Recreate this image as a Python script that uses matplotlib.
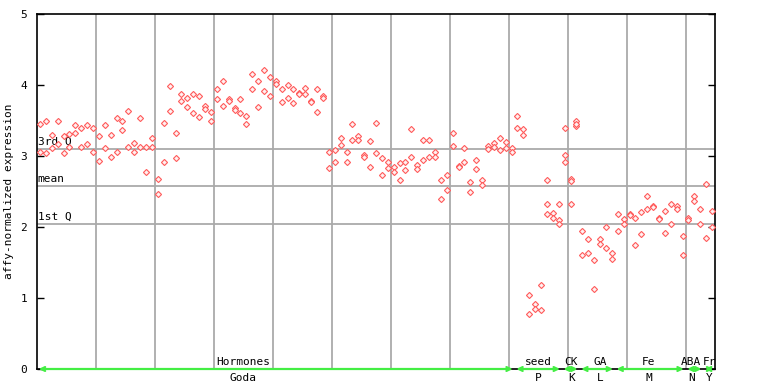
import matplotlib
matplotlib.use("Agg")
import matplotlib.pyplot as plt
import matplotlib.transforms as mtransforms
import numpy as np

# ---- data ----
upper = [3.45, 3.49, 3.30, 3.49, 3.28, 3.31, 3.43, 3.39, 3.43, 3.39,
         3.28, 3.43, 3.30, 3.53, 3.50, 3.64, 3.18, 3.54, 3.13, 3.25,
         2.68, 3.46, 3.99, 3.32, 3.88, 3.81, 3.88, 3.85, 3.70, 3.62,
         3.94, 4.06, 3.80, 3.67, 3.80, 3.56, 4.16, 4.06, 4.21, 4.11,
         4.06, 3.95, 4.00, 3.95, 3.89, 3.96, 3.78, 3.95, 3.85, 3.05,
         3.09, 3.25, 3.05, 3.45, 3.28, 3.02, 3.21, 3.47, 2.97, 2.92,
         2.84, 2.90, 2.91, 3.38, 2.88, 3.23, 3.22, 3.05, 2.66, 2.73,
         3.33, 2.86, 3.11, 2.64, 2.94, 2.66, 3.14, 3.18, 3.26, 3.20,
         3.11, 3.56, 3.38, 1.04, 0.91, 1.18, 2.66, 2.20, 2.32, 3.40,
         2.67, 3.49, 1.94, 1.83, 1.53, 1.83, 2.00, 1.64, 2.19, 2.11,
         2.19, 2.12, 2.21, 2.43, 2.30, 2.13, 2.22, 2.32, 2.30, 1.88,
         2.12, 2.43, 2.26, 2.60, 2.22]
lower = [3.06, 3.04, 3.11, 3.17, 3.04, 3.13, 3.32, 3.12, 3.17, 3.06,
         2.93, 3.11, 2.99, 3.06, 3.37, 3.13, 3.06, 3.13, 2.77, 3.12,
         2.47, 2.91, 3.64, 2.97, 3.77, 3.69, 3.60, 3.55, 3.66, 3.50,
         3.80, 3.71, 3.78, 3.65, 3.60, 3.45, 3.94, 3.69, 3.92, 3.84,
         4.01, 3.76, 3.81, 3.74, 3.87, 3.87, 3.76, 3.62, 3.82, 2.83,
         2.91, 3.16, 2.92, 3.23, 3.22, 2.99, 2.84, 3.04, 2.73, 2.83,
         2.78, 2.66, 2.80, 2.98, 2.81, 2.95, 2.98, 2.98, 2.39, 2.52,
         3.14, 2.84, 2.91, 2.50, 2.81, 2.59, 3.10, 3.12, 3.08, 3.11,
         3.06, 3.39, 3.29, 0.78, 0.85, 0.83, 2.32, 2.13, 2.10, 3.01,
         2.32, 3.42, 1.61, 1.64, 1.12, 1.76, 1.71, 1.55, 1.95, 2.04,
         2.17, 1.74, 1.90, 2.26, 2.28, 2.11, 1.91, 2.04, 2.25, 1.61,
         2.10, 2.36, 2.04, 1.85, 2.00]
extra_idx = [86, 88, 89, 90, 91]
extra_val = [2.18, 2.04, 2.92, 2.65, 3.45]

q3_value = 3.10
mean_value = 2.58
q1_value = 2.04

groups_top = ["Hormones", "seed", "CK", "GA", "Fe", "ABA", "Fr"]
groups_bottom = ["Goda", "P", "K", "L", "M", "N", "Y"]
group_start = [0, 81, 89, 92, 98, 110, 113]
group_end = [81, 89, 92, 98, 110, 113, 115]
label_pos = [35.0, 85.0, 90.6, 95.5, 103.7, 111.0, 114.0]

n = len(upper)
xs = np.arange(n) + 0.5

# ---- figure ----
mono = "DejaVu Sans Mono"
fig = plt.figure(figsize=(7.68, 3.84), dpi=100)
ax = fig.add_axes([37 / 768, 1 - 369 / 384, (715 - 37) / 768, (369 - 14) / 384])

ax.set_xlim(0, n)
ax.set_ylim(0, 5)

grid_c = "#aaaaaa"
for gx in range(10, n, 10):
    ax.axvline(gx, color=grid_c, lw=1.3, zorder=1)
for val in (q3_value, mean_value, q1_value):
    ax.axhline(val, color=grid_c, lw=1.3, zorder=1)

tr_hl = mtransforms.blended_transform_factory(ax.transAxes, ax.transData)
ax.text(0.001, q3_value + 0.03, "3rd Q", transform=tr_hl, fontsize=8,
        family=mono, va="bottom", ha="left", zorder=2)
ax.text(0.001, mean_value + 0.03, "mean", transform=tr_hl, fontsize=8,
        family=mono, va="bottom", ha="left", zorder=2)
ax.text(0.001, q1_value + 0.03, "1st Q", transform=tr_hl, fontsize=8,
        family=mono, va="bottom", ha="left", zorder=2)

red = "#ff5a5a"
mk = dict(marker="D", ms=3.1, mfc="#fff0f0", mec=red, mew=0.8, ls="none", zorder=3)
ax.plot(xs, upper, **mk)
ax.plot(xs, lower, **mk)
ax.plot(np.array(extra_idx) + 0.5, extra_val, **mk)

# green group arrows on the baseline
green = "#44ee44"
for s, e in zip(group_start, group_end):
    ax.annotate("", xy=(s + 0.3, 0), xytext=(e - 0.3, 0),
                arrowprops=dict(arrowstyle="<->", color=green, lw=1.6,
                                shrinkA=0, shrinkB=0, mutation_scale=7),
                annotation_clip=False, zorder=4)

tr_lab = mtransforms.blended_transform_factory(ax.transData, ax.transAxes)
for name, pos in zip(groups_top, label_pos):
    ax.text(pos, 0.006, name, transform=tr_lab, fontsize=8, family=mono,
            ha="center", va="bottom", clip_on=False)
for name, pos in zip(groups_bottom, label_pos):
    ax.text(pos, -0.012, name, transform=tr_lab, fontsize=8, family=mono,
            ha="center", va="top", clip_on=False)

ax.set_xticks([])
ax.set_yticks(range(0, 6))
ax.set_yticklabels([str(v) for v in range(0, 6)], family=mono, fontsize=8)
ax.tick_params(axis="y", direction="in", length=5, width=1, pad=7,
               right=True, left=True, labelright=False)
ax.set_ylabel("affy-normalized expression", family=mono, fontsize=8, labelpad=5)

for sp in ax.spines.values():
    sp.set_color("black")
    sp.set_linewidth(1.2)

fig.savefig("out.png", dpi=100)
